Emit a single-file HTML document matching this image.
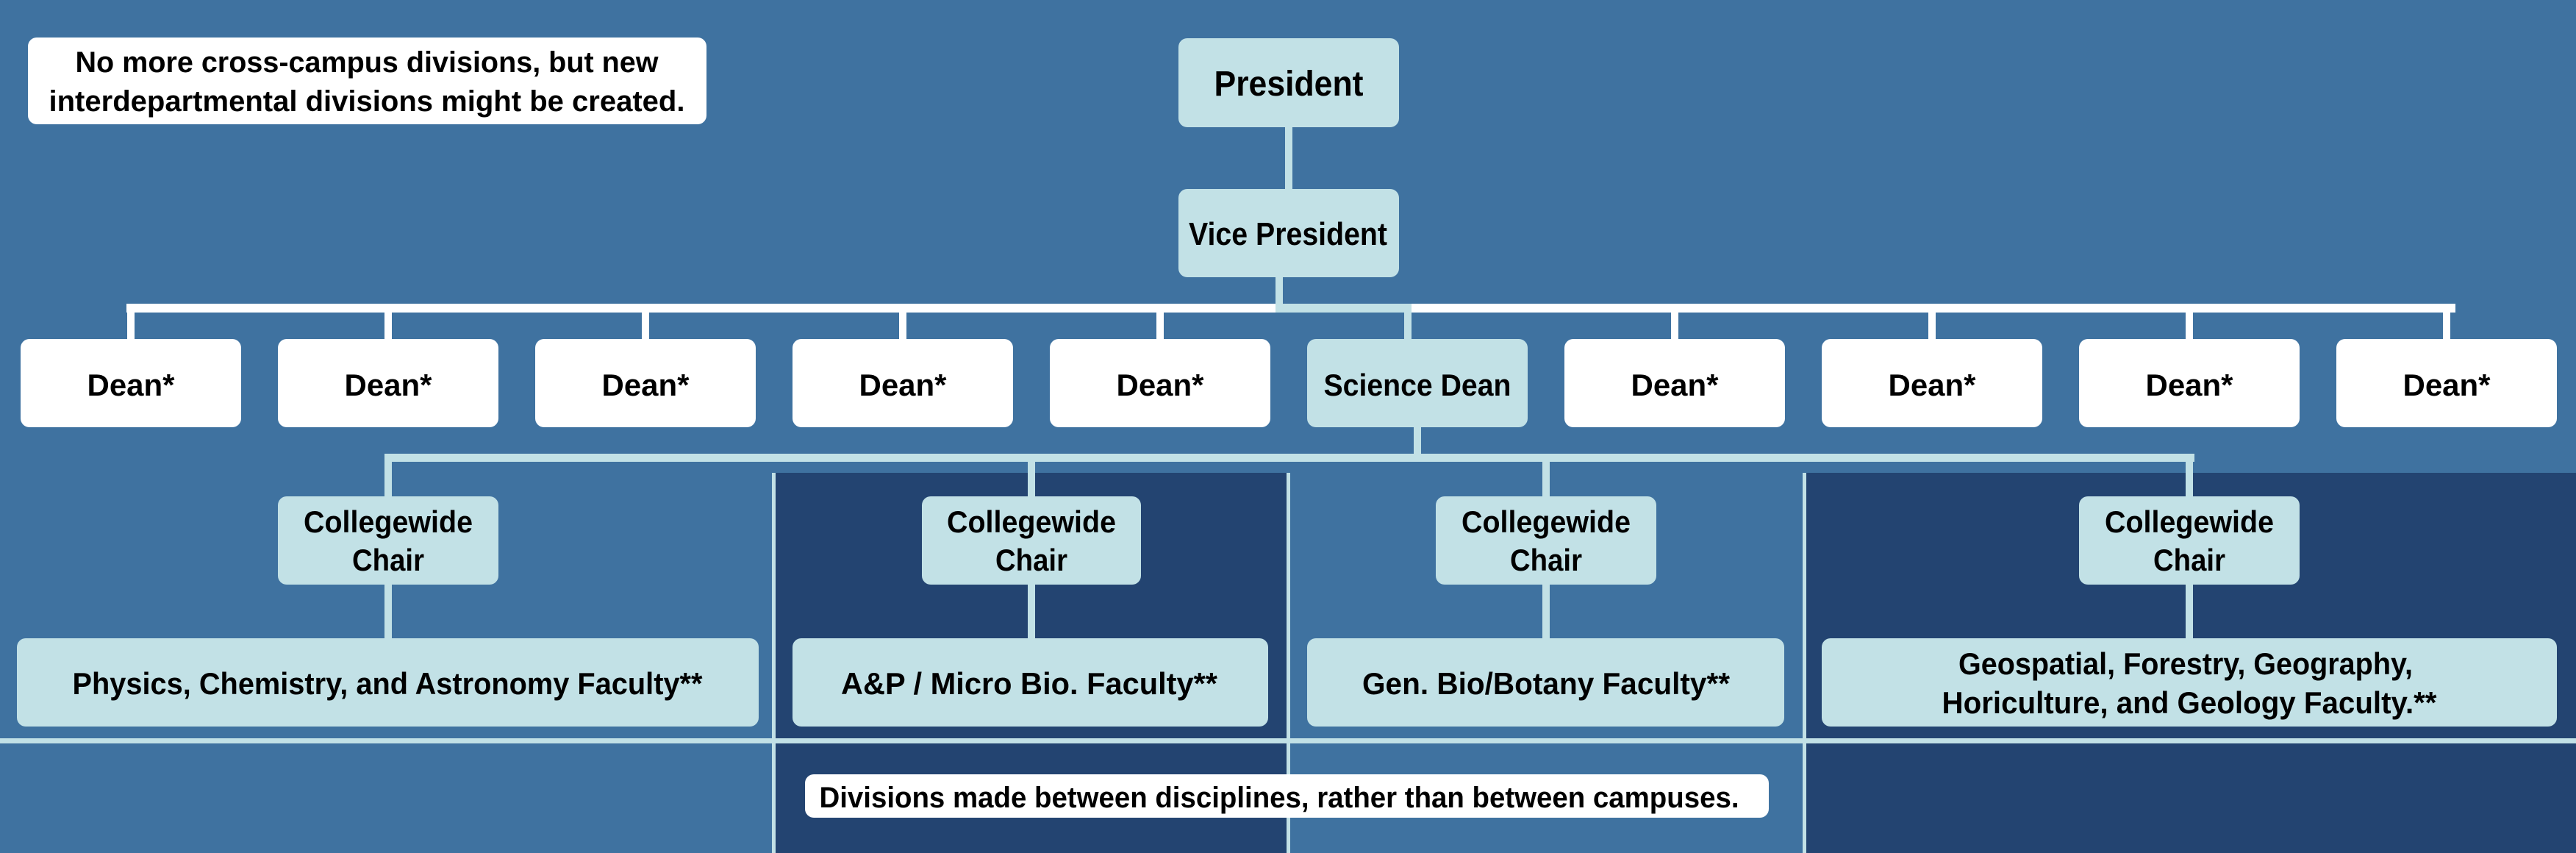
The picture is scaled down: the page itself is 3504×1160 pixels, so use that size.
<!DOCTYPE html>
<html><head><meta charset="utf-8"><style>html,body{margin:0;padding:0;background:#3F72A0}svg{display:block}</style></head><body>
<svg width="3504" height="1160" viewBox="0 0 3504 1160" xmlns="http://www.w3.org/2000/svg" font-family="Liberation Sans, sans-serif" font-weight="bold" text-anchor="middle" fill="#000">
<rect width="3504" height="1160" fill="#3F72A0"/>
<rect x="1054" y="643" width="699" height="517" fill="#234471"/>
<rect x="2454" y="643" width="1050" height="517" fill="#234471"/>
<!-- divider lines -->
<g fill="#C2E1E6">
<rect x="1050" y="643" width="5" height="517"/>
<rect x="1750" y="643" width="5" height="517"/>
<rect x="2452" y="643" width="5" height="517"/>
<rect x="0" y="1004" width="3504" height="7"/>
</g>
<!-- white dean line -->
<g fill="#fff">
<rect x="172" y="413" width="3168" height="12"/>
</g>
<g fill="#fff">
<rect x="173" y="413" width="10" height="50"/>
<rect x="523" y="413" width="10" height="50"/>
<rect x="873" y="413" width="10" height="50"/>
<rect x="1223" y="413" width="10" height="50"/>
<rect x="1573" y="413" width="10" height="50"/>
<rect x="2273" y="413" width="10" height="50"/>
<rect x="2623" y="413" width="10" height="50"/>
<rect x="2973" y="413" width="10" height="50"/>
<rect x="3323" y="413" width="10" height="50"/>
</g>
<!-- light blue connectors -->
<g fill="#C2E1E6">
<rect x="1748" y="170" width="10" height="90"/>
<rect x="1735" y="375" width="10" height="50"/>
<rect x="1735" y="413" width="185" height="12"/>
<rect x="1910" y="413" width="10" height="50"/>
<rect x="1923" y="575" width="10" height="50"/>
<rect x="523" y="617" width="2462" height="11"/>
<rect x="523" y="617" width="10" height="260"/>
<rect x="1398" y="617" width="10" height="260"/>
<rect x="2098" y="617" width="10" height="260"/>
<rect x="2973" y="617" width="10" height="260"/>
</g>
<!-- note -->
<rect x="38" y="51" width="923" height="118" rx="12" fill="#fff"/>
<text x="499" y="98" font-size="40" textLength="793" lengthAdjust="spacingAndGlyphs">No more cross-campus divisions, but new</text>
<text x="499" y="151" font-size="40" textLength="865" lengthAdjust="spacingAndGlyphs">interdepartmental divisions might be created.</text>
<!-- president / vp -->
<rect x="1603" y="52" width="300" height="121" rx="12" fill="#C2E1E6"/>
<text x="1753" y="130" font-size="48" textLength="203" lengthAdjust="spacingAndGlyphs">President</text>
<rect x="1603" y="257" width="300" height="120" rx="12" fill="#C2E1E6"/>
<text x="1752" y="333" font-size="44" textLength="270" lengthAdjust="spacingAndGlyphs">Vice President</text>
<!-- deans -->
<g font-size="42">
<rect x="28" y="461" width="300" height="120" rx="12" fill="#fff"/><text x="178" y="538" textLength="119" lengthAdjust="spacingAndGlyphs">Dean*</text>
<rect x="378" y="461" width="300" height="120" rx="12" fill="#fff"/><text x="528" y="538" textLength="119" lengthAdjust="spacingAndGlyphs">Dean*</text>
<rect x="728" y="461" width="300" height="120" rx="12" fill="#fff"/><text x="878" y="538" textLength="119" lengthAdjust="spacingAndGlyphs">Dean*</text>
<rect x="1078" y="461" width="300" height="120" rx="12" fill="#fff"/><text x="1228" y="538" textLength="119" lengthAdjust="spacingAndGlyphs">Dean*</text>
<rect x="1428" y="461" width="300" height="120" rx="12" fill="#fff"/><text x="1578" y="538" textLength="119" lengthAdjust="spacingAndGlyphs">Dean*</text>
<rect x="1778" y="461" width="300" height="120" rx="12" fill="#C2E1E6"/><text x="1928" y="538" textLength="255" lengthAdjust="spacingAndGlyphs">Science Dean</text>
<rect x="2128" y="461" width="300" height="120" rx="12" fill="#fff"/><text x="2278" y="538" textLength="119" lengthAdjust="spacingAndGlyphs">Dean*</text>
<rect x="2478" y="461" width="300" height="120" rx="12" fill="#fff"/><text x="2628" y="538" textLength="119" lengthAdjust="spacingAndGlyphs">Dean*</text>
<rect x="2828" y="461" width="300" height="120" rx="12" fill="#fff"/><text x="2978" y="538" textLength="119" lengthAdjust="spacingAndGlyphs">Dean*</text>
<rect x="3178" y="461" width="300" height="120" rx="12" fill="#fff"/><text x="3328" y="538" textLength="119" lengthAdjust="spacingAndGlyphs">Dean*</text>
</g>
<!-- chairs -->
<g font-size="42">
<rect x="378" y="675" width="300" height="120" rx="12" fill="#C2E1E6"/>
<text x="528" y="724" textLength="230" lengthAdjust="spacingAndGlyphs">Collegewide</text><text x="528" y="776" textLength="98" lengthAdjust="spacingAndGlyphs">Chair</text>
<rect x="1254" y="675" width="298" height="120" rx="12" fill="#C2E1E6"/>
<text x="1403" y="724" textLength="230" lengthAdjust="spacingAndGlyphs">Collegewide</text><text x="1403" y="776" textLength="98" lengthAdjust="spacingAndGlyphs">Chair</text>
<rect x="1953" y="675" width="300" height="120" rx="12" fill="#C2E1E6"/>
<text x="2103" y="724" textLength="230" lengthAdjust="spacingAndGlyphs">Collegewide</text><text x="2103" y="776" textLength="98" lengthAdjust="spacingAndGlyphs">Chair</text>
<rect x="2828" y="675" width="300" height="120" rx="12" fill="#C2E1E6"/>
<text x="2978" y="724" textLength="230" lengthAdjust="spacingAndGlyphs">Collegewide</text><text x="2978" y="776" textLength="98" lengthAdjust="spacingAndGlyphs">Chair</text>
</g>
<!-- faculty -->
<g font-size="42">
<rect x="23" y="868" width="1009" height="120" rx="12" fill="#C2E1E6"/>
<text x="527" y="944" textLength="857" lengthAdjust="spacingAndGlyphs">Physics, Chemistry, and Astronomy Faculty**</text>
<rect x="1078" y="868" width="647" height="120" rx="12" fill="#C2E1E6"/>
<text x="1400" y="944" textLength="512" lengthAdjust="spacingAndGlyphs">A&amp;P / Micro Bio. Faculty**</text>
<rect x="1778" y="868" width="649" height="120" rx="12" fill="#C2E1E6"/>
<text x="2103" y="944" textLength="500" lengthAdjust="spacingAndGlyphs">Gen. Bio/Botany Faculty**</text>
<rect x="2478" y="868" width="1000" height="120" rx="12" fill="#C2E1E6"/>
<text x="2973" y="917" textLength="618" lengthAdjust="spacingAndGlyphs">Geospatial, Forestry, Geography,</text>
<text x="2978" y="970" textLength="673" lengthAdjust="spacingAndGlyphs">Horiculture, and Geology Faculty.**</text>
</g>
<!-- bottom note -->
<rect x="1095" y="1053" width="1311" height="59" rx="12" fill="#fff"/>
<text x="1740" y="1098" font-size="40" textLength="1251" lengthAdjust="spacingAndGlyphs">Divisions made between disciplines, rather than between campuses.</text>
</svg>
</body></html>
